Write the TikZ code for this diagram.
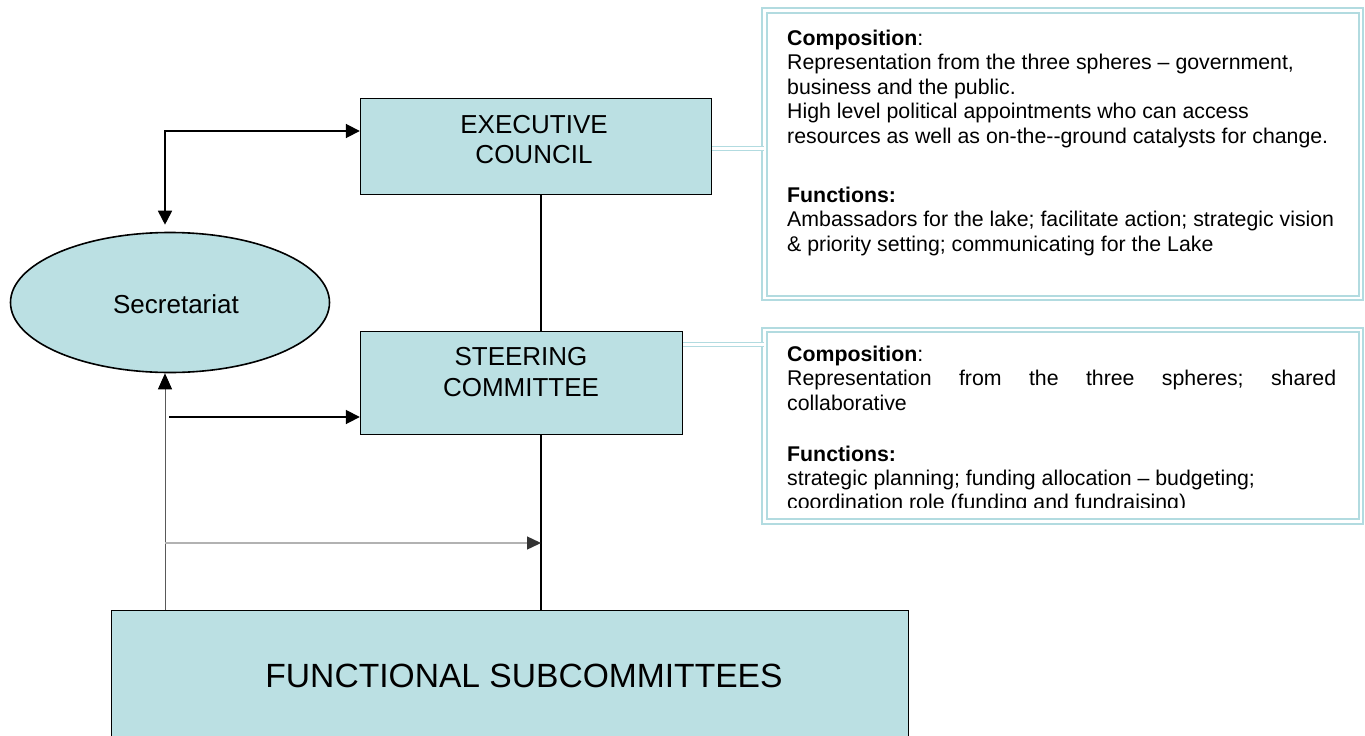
\documentclass[tikz,border=0pt]{standalone}
\usepackage{fontspec}
\setmainfont{Liberation Sans}
\usetikzlibrary{arrows.meta,shapes.geometric}

\definecolor{boxfill}{RGB}{187,224,227}
\definecolor{calline}{RGB}{178,219,224}

\begin{document}
\begin{tikzpicture}[x=1pt,y=-1pt,
  orgbox/.style={draw=black, line width=1.6pt, fill=boxfill, rectangle, inner sep=0pt},
  boxlabel/.style={inner sep=0pt, font=\fontsize{26}{30}\selectfont},
  calloutbox/.style={draw=calline, line width=1.9pt, double=white, double distance=2.6pt, rectangle, inner sep=0pt},
  calloutlink/.style={draw=calline, line width=1.7pt, double=white, double distance=2.2pt},
  calltext/.style={inner sep=0pt, anchor=base west, font=\fontsize{21.3}{24.5}\selectfont},
  flow/.style={line width=1.8pt, -{Triangle[length=14pt,width=14pt]}},
  flowboth/.style={line width=1.8pt, {Triangle[length=14pt,width=14pt]}-{Triangle[length=14pt,width=14pt]}},
  trunkline/.style={line width=1.6pt},
  feedline/.style={line width=1pt, draw=black!65, -{Triangle[length=16pt,width=14pt,color=black]}},
  crossline/.style={line width=1.4pt, draw=black!30, -{Triangle[length=14pt,width=13pt,color=black!80]}}
]
\useasboundingbox (0,0) rectangle (1365,736);

% organisation boxes
\node[orgbox, minimum width=351pt, minimum height=96pt, anchor=north west] (exec) at (359.8,97.8) {};
\node[boxlabel, anchor=base] (execA) at (534,133) {EXECUTIVE};
\node[boxlabel, anchor=base] (execB) at (534,163) {COUNCIL};

\node[orgbox, minimum width=322pt, minimum height=103pt, anchor=north west] (steer) at (359.8,330.8) {};
\node[boxlabel, anchor=base] (steerA) at (521,365) {STEERING};
\node[boxlabel, anchor=base] (steerB) at (521,396) {COMMITTEE};

\node[orgbox, minimum width=797pt, minimum height=140pt, anchor=north west] (func) at (110.8,609.8) {};
\node[inner sep=0pt, anchor=base, font=\fontsize{33.6}{38}\selectfont] (funcT) at (524,687) {FUNCTIONAL SUBCOMMITTEES};

\node[draw=black, line width=1.6pt, fill=boxfill, ellipse, inner sep=0pt,
      minimum width=319pt, minimum height=140pt] (sec) at (170,302.5) {};
\node[boxlabel, anchor=base] (secT) at (176,313) {Secretariat};

% trunk between the levels
\coordinate (trunk) at (541,0);
\draw[trunkline] (exec.south -| trunk) -- (steer.north -| trunk);
\draw[trunkline] (steer.south -| trunk) -- (func.north -| trunk);

% secretariat links
\coordinate (corner) at (165,131);
\coordinate (sstart) at (169,417);
\coordinate (xrow) at (165,543);
\draw[flowboth] ([yshift=7pt]corner |- sec.north) -- (corner) -- (exec.west |- corner);
\draw[flow] (sstart) -- (steer.west |- sstart);
\draw[feedline] (func.north -| corner) -- (corner |- sec.south);
\draw[crossline] (xrow) -- (trunk |- xrow);

% callout boxes
\node[calloutbox, minimum width=596.5pt, minimum height=287.5pt, anchor=north west] (call1) at (763.5,9.5) {};
\node[calloutbox, minimum width=596.5pt, minimum height=191.5pt, anchor=north west] (call2) at (763.5,329) {};
\coordinate (link1) at (0,148.5);
\coordinate (link2) at (0,344.5);
\draw[calloutlink] (exec.east |- link1) -- (call1.west |- link1);
\draw[calloutlink] (steer.east |- link2) -- (call2.west |- link2);

% callout text: executive council
\node[calltext] (c1a) at (787,45) {\textbf{Composition}:};
\node[calltext] (c1b) at (787,69.5) {Representation from the three spheres – government,};
\node[calltext] (c1c) at (787,94) {business and the public.};
\node[calltext] (c1d) at (787,118.5) {High level political appointments who can access};
\node[calltext] (c1e) at (787,143) {resources as well as on-the-{}-ground catalysts for change.};
\node[calltext] (c1f) at (787,202) {\textbf{Functions:}};
\node[calltext] (c1g) at (787,226.5) {Ambassadors for the lake; facilitate action; strategic vision};
\node[calltext] (c1h) at (787,251) {\& priority setting; communicating for the Lake};

% callout text: steering committee, cut off at the lower margin
\begin{scope}
\clip (766,332) rectangle (1357,507);
\node[calltext] (c2a) at (787,361) {\textbf{Composition}:};
\node[calltext] (c2b) at (787,385.5) {\hbox to 549pt{Representation\hfill from\hfill the\hfill three\hfill spheres;\hfill shared}};
\node[calltext] (c2c) at (787,410) {collaborative};
\node[calltext] (c2d) at (787,461) {\textbf{Functions:}};
\node[calltext] (c2e) at (787,485) {strategic planning; funding allocation – budgeting;};
\node[calltext] (c2f) at (787,509) {coordination role (funding and fundraising)};
\end{scope}
\end{tikzpicture}
\end{document}
